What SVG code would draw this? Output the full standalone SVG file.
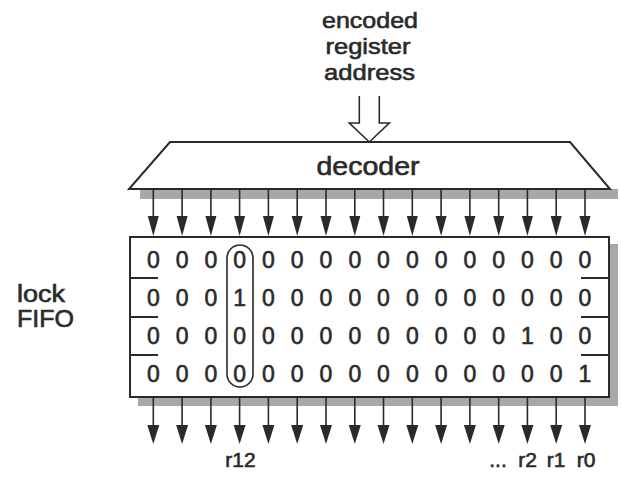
<svg xmlns="http://www.w3.org/2000/svg" xmlns:xlink="http://www.w3.org/1999/xlink" width="621" height="484" viewBox="0 0 621 484">
<style>
text{font-family:"Liberation Sans",Arial,sans-serif;fill:#2a2a2a;stroke:#2a2a2a;stroke-width:0.6}
.d{font-size:23px;text-anchor:middle}
.lbl{font-size:21px;text-anchor:middle}
.ln{stroke:#2a2a2a;stroke-width:2;fill:none}
.ah{fill:#2a2a2a}
.shadow{fill:#a8a8a8}
</style>
<defs>
<path id="ahT" class="ah" d="M-5.5,0 L5.5,0 L0,20 Z"/>
<path id="ahB" class="ah" d="M-6,0 L6,0 L0,19 Z"/>
</defs>
<rect width="621" height="484" fill="#ffffff"/>

<g id="input-label">
<text x="370" y="28" style="font-size:22px;text-anchor:middle" textLength="96" lengthAdjust="spacingAndGlyphs">encoded</text>
<text x="368" y="54" style="font-size:22px;text-anchor:middle" textLength="85" lengthAdjust="spacingAndGlyphs">register</text>
<text x="369.5" y="80" style="font-size:22px;text-anchor:middle" textLength="91" lengthAdjust="spacingAndGlyphs">address</text>
</g>

<g id="lock-fifo-label">
<text x="17" y="302" style="font-size:23px" textLength="48" lengthAdjust="spacingAndGlyphs">lock</text>
<text x="17" y="327" style="font-size:23px" textLength="57" lengthAdjust="spacingAndGlyphs">FIFO</text>
</g>

<g id="decoder">
<rect class="shadow" x="140" y="189" width="478" height="10"/>
<path d="M170,142 L570,142 L610,189 L129,189 Z" fill="#ffffff" stroke="#2a2a2a" stroke-width="2" stroke-linejoin="miter"/>
<text x="368" y="175" style="font-size:25px;text-anchor:middle" textLength="103" lengthAdjust="spacingAndGlyphs">decoder</text>
</g>

<g id="register">
<rect x="138" y="397" width="480" height="9" class="shadow"/>
<rect x="609" y="244" width="9" height="162" class="shadow"/>
<rect x="130" y="237" width="479" height="160" fill="#ffffff" stroke="#2a2a2a" stroke-width="2"/>
<g class="ln">
<path d="M130,278 H158 M130,317 H158 M130,355 H158"/>
<path d="M581,278 H609 M581,317 H609 M581,355 H609"/>
</g>
<rect x="227" y="245" width="26" height="142" rx="13" ry="13" fill="none" stroke="#2a2a2a" stroke-width="1.6"/>
<g class="d">
<text x="153.3" y="268">0</text><text x="182.1" y="268">0</text><text x="210.9" y="268">0</text><text x="239.6" y="268">0</text><text x="268.4" y="268">0</text><text x="297.2" y="268">0</text><text x="326" y="268">0</text><text x="354.8" y="268">0</text><text x="383.5" y="268">0</text><text x="412.3" y="268">0</text><text x="441.1" y="268">0</text><text x="469.9" y="268">0</text><text x="498.7" y="268">0</text><text x="527.4" y="268">0</text><text x="556.2" y="268">0</text><text x="585" y="268">0</text>
<text x="153.3" y="306">0</text><text x="182.1" y="306">0</text><text x="210.9" y="306">0</text><text x="239.6" y="306">1</text><text x="268.4" y="306">0</text><text x="297.2" y="306">0</text><text x="326" y="306">0</text><text x="354.8" y="306">0</text><text x="383.5" y="306">0</text><text x="412.3" y="306">0</text><text x="441.1" y="306">0</text><text x="469.9" y="306">0</text><text x="498.7" y="306">0</text><text x="527.4" y="306">0</text><text x="556.2" y="306">0</text><text x="585" y="306">0</text>
<text x="153.3" y="344">0</text><text x="182.1" y="344">0</text><text x="210.9" y="344">0</text><text x="239.6" y="344">0</text><text x="268.4" y="344">0</text><text x="297.2" y="344">0</text><text x="326" y="344">0</text><text x="354.8" y="344">0</text><text x="383.5" y="344">0</text><text x="412.3" y="344">0</text><text x="441.1" y="344">0</text><text x="469.9" y="344">0</text><text x="498.7" y="344">0</text><text x="527.4" y="344">1</text><text x="556.2" y="344">0</text><text x="585" y="344">0</text>
<text x="153.3" y="382">0</text><text x="182.1" y="382">0</text><text x="210.9" y="382">0</text><text x="239.6" y="382">0</text><text x="268.4" y="382">0</text><text x="297.2" y="382">0</text><text x="326" y="382">0</text><text x="354.8" y="382">0</text><text x="383.5" y="382">0</text><text x="412.3" y="382">0</text><text x="441.1" y="382">0</text><text x="469.9" y="382">0</text><text x="498.7" y="382">0</text><text x="527.4" y="382">0</text><text x="556.2" y="382">0</text><text x="585" y="382">1</text>
</g>
</g>

<g id="connectors">
<path d="M359.3,96 V123 H349.3 L369.3,142 L389.3,123 H379.3 V96" fill="#ffffff" stroke="#2a2a2a" stroke-width="1.6" stroke-linejoin="miter"/>
<g class="ln" style="stroke-width:1.6">
<path d="M153.3,190 V222 M182.1,190 V222 M210.9,190 V222 M239.6,190 V222 M268.4,190 V222 M297.2,190 V222 M326,190 V222 M354.8,190 V222 M383.5,190 V222 M412.3,190 V222 M441.1,190 V222 M469.9,190 V222 M498.7,190 V222 M527.4,190 V222 M556.2,190 V222 M585,190 V222"/>
<path d="M153.3,398 V430 M182.1,398 V430 M210.9,398 V430 M239.6,398 V430 M268.4,398 V430 M297.2,398 V430 M326,398 V430 M354.8,398 V430 M383.5,398 V430 M412.3,398 V430 M441.1,398 V430 M469.9,398 V430 M498.7,398 V430 M527.4,398 V430 M556.2,398 V430 M585,398 V430"/>
</g>
<use xlink:href="#ahT" x="153.3" y="216"/><use xlink:href="#ahT" x="182.1" y="216"/><use xlink:href="#ahT" x="210.9" y="216"/><use xlink:href="#ahT" x="239.6" y="216"/><use xlink:href="#ahT" x="268.4" y="216"/><use xlink:href="#ahT" x="297.2" y="216"/><use xlink:href="#ahT" x="326" y="216"/><use xlink:href="#ahT" x="354.8" y="216"/><use xlink:href="#ahT" x="383.5" y="216"/><use xlink:href="#ahT" x="412.3" y="216"/><use xlink:href="#ahT" x="441.1" y="216"/><use xlink:href="#ahT" x="469.9" y="216"/><use xlink:href="#ahT" x="498.7" y="216"/><use xlink:href="#ahT" x="527.4" y="216"/><use xlink:href="#ahT" x="556.2" y="216"/><use xlink:href="#ahT" x="585" y="216"/>
<use xlink:href="#ahB" x="153.3" y="425"/><use xlink:href="#ahB" x="182.1" y="425"/><use xlink:href="#ahB" x="210.9" y="425"/><use xlink:href="#ahB" x="239.6" y="425"/><use xlink:href="#ahB" x="268.4" y="425"/><use xlink:href="#ahB" x="297.2" y="425"/><use xlink:href="#ahB" x="326" y="425"/><use xlink:href="#ahB" x="354.8" y="425"/><use xlink:href="#ahB" x="383.5" y="425"/><use xlink:href="#ahB" x="412.3" y="425"/><use xlink:href="#ahB" x="441.1" y="425"/><use xlink:href="#ahB" x="469.9" y="425"/><use xlink:href="#ahB" x="498.7" y="425"/><use xlink:href="#ahB" x="527.4" y="425"/><use xlink:href="#ahB" x="556.2" y="425"/><use xlink:href="#ahB" x="585" y="425"/>
</g>

<g id="output-labels">
<text class="lbl" x="240.5" y="467">r12</text>
<text class="lbl" x="498" y="467">...</text>
<text class="lbl" x="527.5" y="467">r2</text>
<text class="lbl" x="556" y="467">r1</text>
<text class="lbl" x="586" y="467">r0</text>
</g>
</svg>
